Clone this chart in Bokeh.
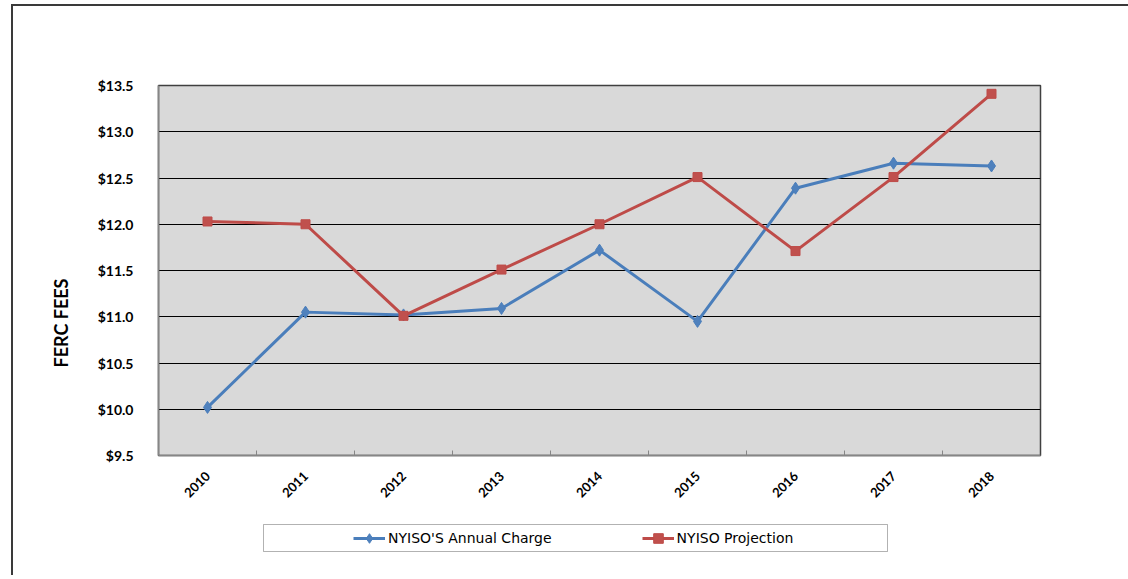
import numpy as np
from bokeh.plotting import figure
from bokeh.models import FixedTicker, NumeralTickFormatter, Legend, Title, BoxAnnotation
from bokeh.layouts import column
from bokeh.embed import file_html
from bokeh.resources import INLINE

years = ["2010", "2011", "2012", "2013", "2014", "2015", "2016", "2017", "2018"]
annual_charge = [10.02, 11.05, 11.02, 11.09, 11.72, 10.95, 12.39, 12.66, 12.63]
projection = [12.03, 12.00, 11.01, 11.51, 12.00, 12.51, 11.71, 12.51, 13.41]
y_ticks = [9.5, 10.0, 10.5, 11.0, 11.5, 12.0, 12.5, 13.0, 13.5]
series_names = ["NYISO'S Annual Charge", "NYISO Projection"]

xs = (np.arange(len(years)) + 0.5).tolist()

FONT = "Lato"
blue_line = "#4A7EBB"
blue_fill = "#4F81BD"
red_line = "#BE4B48"
red_fill = "#C0504D"

# offsets of the content inside the page (outer chart border)
OX, OY = 13, 6
W = 1128 - OX
FL, FR = 158, 1040   # frame left/right in page pixels

p = figure(width=W, height=510 - OY, output_backend="svg", toolbar_location=None,
           x_range=(0, len(years)), y_range=(9.5, 13.5),
           min_border_left=FL - OX, min_border_right=W - (FR - OX),
           min_border_top=85 - OY, min_border_bottom=510 - 455)

p.background_fill_color = "#D9D9D9"
p.border_fill_color = "white"
p.outline_line_color = "#404040"
p.outline_line_width = 1.5

# x axis
p.xaxis.ticker = FixedTicker(ticks=xs, minor_ticks=list(range(1, len(years))))
p.xaxis.major_label_overrides = {x: y for x, y in zip(xs, years)}
p.xaxis.major_tick_line_color = None
p.xaxis.minor_tick_in = 5
p.xaxis.minor_tick_out = 0
p.xaxis.minor_tick_line_color = "#868686"
p.xaxis.axis_line_color = "#868686"
p.xaxis.axis_line_width = 1.5
p.xaxis.major_label_orientation = np.pi / 4
p.xaxis.major_label_text_font = FONT
p.xaxis.major_label_text_font_style = "bold"
p.xaxis.major_label_text_font_size = "13px"
p.xaxis.major_label_text_color = "black"
p.xaxis.major_label_standoff = 12
p.xgrid.grid_line_color = None

# y axis
p.yaxis.ticker = FixedTicker(ticks=y_ticks)
p.yaxis.formatter = NumeralTickFormatter(format="$0.0")
p.yaxis.major_tick_line_color = None
p.yaxis.minor_tick_line_color = None
p.yaxis.axis_line_color = "#868686"
p.yaxis.axis_line_width = 1.5
p.yaxis.major_label_text_font = FONT
p.yaxis.major_label_text_font_style = "bold"
p.yaxis.major_label_text_font_size = "14px"
p.yaxis.major_label_text_color = "black"
p.yaxis.major_label_standoff = 19
p.ygrid.grid_line_color = "black"
p.ygrid.grid_line_width = 1

ytitle = Title(text="FERC FEES", align="left", offset=88, standoff=45,
               text_font=FONT, text_font_style="bold", text_font_size="18px", text_color="black")
p.add_layout(ytitle, "left")

p.line(xs, annual_charge, line_color=blue_line, line_width=3)
p.scatter(xs, annual_charge, marker="diamond", size=12, fill_color=blue_fill, line_color=blue_line)
p.line(xs, projection, line_color=red_line, line_width=3)
p.scatter(xs, projection, marker="square", size=9, fill_color=red_fill, line_color=red_line)

# legend strip below the chart (its frame is aligned with the chart frame)
LH = 575 - 510
q = figure(width=W, height=LH, output_backend="svg", toolbar_location=None,
           x_range=(FL, FR), y_range=(510 + LH, 510),
           x_axis_location=None, y_axis_location=None,
           min_border_left=FL - OX, min_border_right=W - (FR - OX),
           min_border_top=0, min_border_bottom=0)
q.grid.visible = False
q.outline_line_color = None
q.background_fill_color = "white"
q.border_fill_color = "white"

q.add_layout(BoxAnnotation(left=263, right=887, top=524, bottom=551,
                           fill_color="white", fill_alpha=1.0, line_color="black", line_width=1))

# legend proxies: same series, but outside this strip's visible range
k1 = q.line(xs, annual_charge, line_color=blue_line, line_width=3)
s1 = q.scatter(xs, annual_charge, marker="diamond", size=12, fill_color=blue_fill, line_color=blue_line)
k2 = q.line(xs, projection, line_color=red_line, line_width=3)
s2 = q.scatter(xs, projection, marker="square", size=9, fill_color=red_fill, line_color=red_line)

legend = Legend(items=[(series_names[0], [k1, s1]), (series_names[1], [k2, s2])],
                orientation="horizontal", location=(195, 25),
                label_text_font="DejaVu Sans", label_text_font_size="14px", label_text_color="black",
                border_line_color=None, background_fill_alpha=0.0,
                padding=8, spacing=90, glyph_width=32, label_standoff=3, margin=0)
legend.label_height = 14
legend.glyph_height = 24
q.add_layout(legend)

layout = column(p, q, spacing=0, margin=(OY - 2, 0, 0, OX - 2),
                styles={"border-top": "2px solid #3a3a3a", "border-left": "2px solid #3a3a3a"})

open("out.html", "w").write(file_html(layout, INLINE))
